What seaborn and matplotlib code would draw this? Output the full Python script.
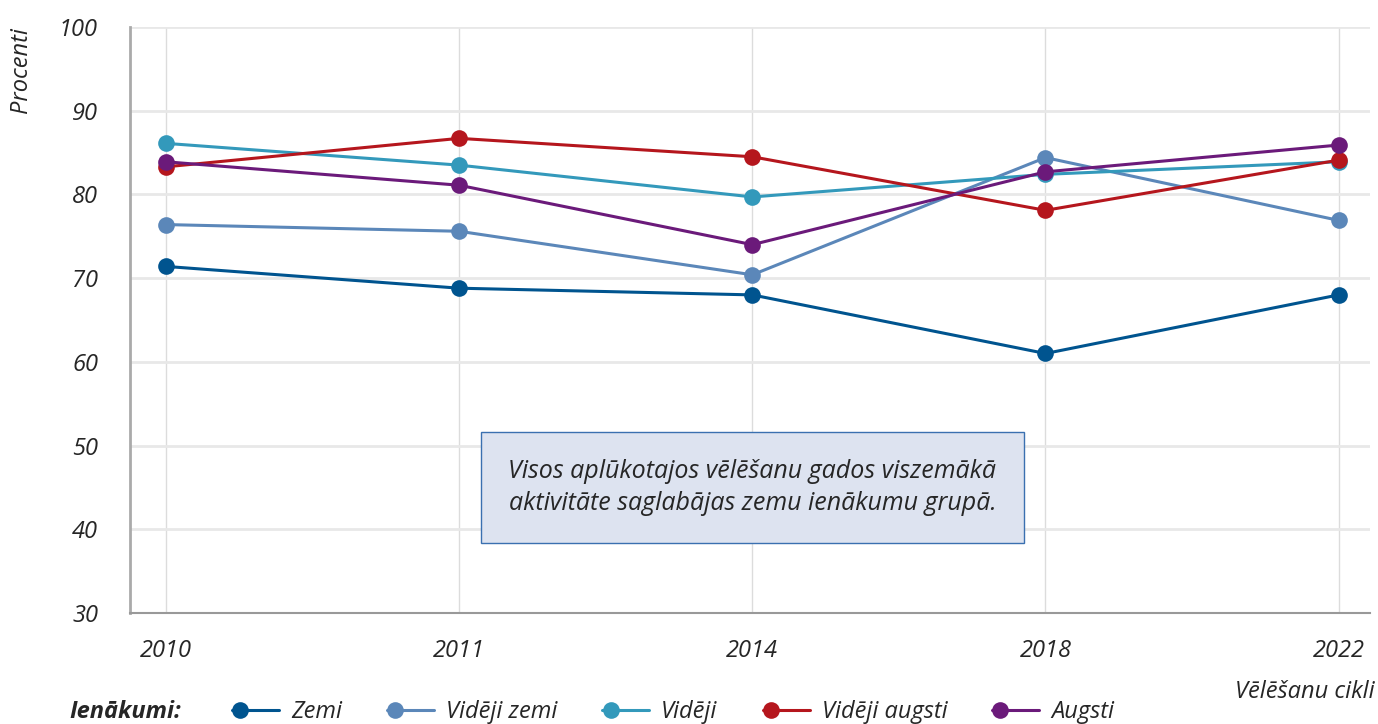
import pandas as pd
import numpy as np
from matplotlib import pyplot as plt
from matplotlib.lines import Line2D
from matplotlib.legend_handler import HandlerLine2D
import seaborn as sns

# Chart data
years = ["2010", "2011", "2014", "2018", "2022"]
zemi = [71.4, 68.8, 68.0, 61.0, 68.0]
videji_zemi = [76.4, 75.6, 70.4, 84.4, 76.9]
videji = [86.1, 83.5, 79.7, 82.4, 83.9]
videji_augsti = [83.3, 86.7, 84.5, 78.1, 84.1]
augsti = [83.9, 81.1, 74.0, 82.7, 85.9]

groups = ["Zemi", "Vidēji zemi", "Vidēji", "Vidēji augsti", "Augsti"]
colors = ["#00548f", "#5b87b9", "#3399bb", "#b5161d", "#6b1a7a"]
note = "Visos aplūkotajos vēlēšanu gados viszemākā\naktivitāte saglabājas zemu ienākumu grupā."

# Long-form table for seaborn
rows = []
for name, vals in zip(groups, [zemi, videji_zemi, videji, videji_augsti, augsti]):
    for yr, v in zip(years, vals):
        rows.append({"year": yr, "value": v, "group": name})
df = pd.DataFrame(rows)
palette = dict(zip(groups, colors))

FS = 17

sns.set_theme(style="white")
plt.rcParams["font.family"] = ["Open Sans", "DejaVu Sans"]
plt.rcParams["font.style"] = "italic"

fig = plt.figure(figsize=(13.78, 7.24), dpi=100)
ax = fig.add_axes([0.0943, 0.1533, 0.8997, 0.8094])

sns.lineplot(data=df, x="year", y="value", hue="group", palette=palette,
             hue_order=groups, marker="o", markersize=12, markeredgewidth=0,
             linewidth=2.2, ax=ax, legend=False, sort=False)

ax.set_ylim(30, 100)
ax.set_xlim(-0.123, 4.106)
ax.set_yticks(range(30, 101, 10))

# Grid and spines
ax.grid(axis="y", color="#e8e8e8", linewidth=2)
ax.grid(axis="x", color="#dcdcdc", linewidth=1)
ax.set_axisbelow(True)
for s in ["top", "right"]:
    ax.spines[s].set_visible(False)
ax.spines["left"].set_color("#aaaaaa")
ax.spines["left"].set_linewidth(2)
ax.spines["bottom"].set_color("#999999")
ax.spines["bottom"].set_linewidth(1.5)

ax.tick_params(axis="y", length=11, width=2, color="#e8e8e8", labelsize=FS, pad=12)
ax.tick_params(axis="x", length=8, width=1.2, color="#aaaaaa", labelsize=FS, pad=11)
for lab in ax.get_xticklabels() + ax.get_yticklabels():
    lab.set_fontstyle("italic")

ax.set_ylabel("Procenti", fontsize=FS, fontstyle="italic", loc="top")
ax.yaxis.set_label_coords(-0.078, 1.0)
ax.set_xlabel("Vēlēšanu cikli", fontsize=FS, fontstyle="italic", loc="right")
ax.xaxis.set_label_coords(1.004, -0.115)

# Annotation box
ax.text(2, 45, note, ha="center", va="center", fontsize=18, fontstyle="italic",
        linespacing=1.35,
        bbox=dict(boxstyle="square,pad=1.1", facecolor="#dde3f0", edgecolor="#3a70b0",
                  linewidth=1))


# Legend: dot on the left with a line going right
class DotLine(HandlerLine2D):
    def create_artists(self, legend, orig_handle, xdescent, ydescent, width,
                       height, fontsize, trans):
        y = height / 2 - ydescent
        x0 = -xdescent
        line = Line2D([x0, x0 + width], [y, y], color=orig_handle.get_color(), lw=2.2)
        dot = Line2D([x0 + 6], [y], marker="o", markersize=12, markeredgewidth=0,
                     color=orig_handle.get_color(), linestyle="none")
        line.set_transform(trans)
        dot.set_transform(trans)
        return [line, dot]


handles = [Line2D([], [], color=c) for c in colors]
leg = fig.legend(handles, groups, loc="center left", bbox_to_anchor=(0.153, 0.016),
                 ncol=5, frameon=False, fontsize=FS, handlelength=2.0,
                 handletextpad=0.5, columnspacing=1.9,
                 handler_map={Line2D: DotLine()})
for t in leg.get_texts():
    t.set_fontstyle("italic")
fig.text(0.05, 0.016, "Ienākumi:", fontsize=FS, fontweight="bold", fontstyle="italic",
         va="center", ha="left")

plt.savefig("out.png", dpi=100)
